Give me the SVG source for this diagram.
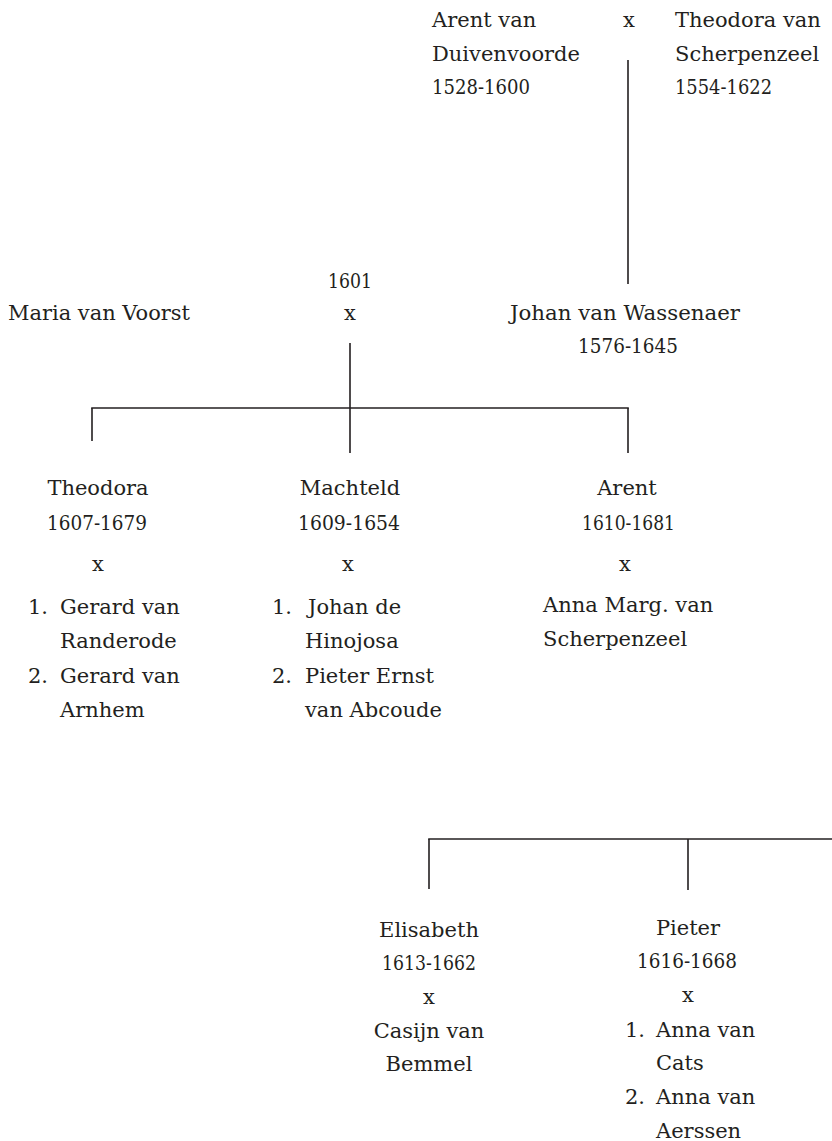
<svg xmlns="http://www.w3.org/2000/svg" width="832" height="1141" viewBox="0 0 832 1141">
<style>
text{font-family:"DejaVu Serif","Liberation Serif",serif;font-size:21px;fill:#231f20}
.m{text-anchor:middle}
.ln{stroke:#231f20;stroke-width:1.6;fill:none}
</style>
<rect width="832" height="1141" fill="#ffffff"/>
<g id="connectors">
<line class="ln" x1="628" y1="60" x2="628" y2="284"/>
<line class="ln" x1="350" y1="343" x2="350" y2="453"/>
<line class="ln" x1="91.2" y1="408" x2="628.8" y2="408"/>
<line class="ln" x1="92" y1="408" x2="92" y2="441"/>
<line class="ln" x1="628" y1="408" x2="628" y2="453"/>
<line class="ln" x1="428.2" y1="839" x2="832" y2="839"/>
<line class="ln" x1="429" y1="839" x2="429" y2="889"/>
<line class="ln" x1="688" y1="839" x2="688" y2="890"/>
</g>
<g id="node-arent-duivenvoorde">
<text x="432" y="27">Arent van</text>
<text x="432" y="61">Duivenvoorde</text>
<text x="432" y="94" textLength="98" lengthAdjust="spacingAndGlyphs">1528-1600</text>
</g>
<g id="marriage-top"><text class="m" x="629" y="27">x</text></g>
<g id="node-theodora-scherpenzeel">
<text x="675" y="27">Theodora van</text>
<text x="675" y="61">Scherpenzeel</text>
<text x="675" y="94" textLength="97" lengthAdjust="spacingAndGlyphs">1554-1622</text>
</g>
<g id="marriage-1601">
<text class="m" x="350" y="288" textLength="44" lengthAdjust="spacingAndGlyphs">1601</text>
<text class="m" x="350" y="320">x</text>
</g>
<g id="node-maria">
<text x="8" y="320" textLength="182" lengthAdjust="spacingAndGlyphs">Maria van Voorst</text>
</g>
<g id="node-johan">
<text x="510" y="320" textLength="230" lengthAdjust="spacingAndGlyphs">Johan van Wassenaer</text>
<text x="578" y="353" textLength="100" lengthAdjust="spacingAndGlyphs">1576-1645</text>
</g>
<g id="node-theodora">
<text class="m" x="98" y="495">Theodora</text>
<text x="47" y="530" textLength="100" lengthAdjust="spacingAndGlyphs">1607-1679</text>
<text class="m" x="98" y="571">x</text>
<text x="28" y="614">1.</text><text x="60" y="614">Gerard van</text>
<text x="60" y="648">Randerode</text>
<text x="28" y="683">2.</text><text x="60" y="683">Gerard van</text>
<text x="60" y="717">Arnhem</text>
</g>
<g id="node-machteld">
<text class="m" x="350" y="495">Machteld</text>
<text x="298" y="530" textLength="102" lengthAdjust="spacingAndGlyphs">1609-1654</text>
<text class="m" x="348" y="571">x</text>
<text x="272" y="614">1.</text><text x="308" y="614">Johan de</text>
<text x="305" y="648">Hinojosa</text>
<text x="272" y="683">2.</text><text x="305" y="683">Pieter Ernst</text>
<text x="305" y="717">van Abcoude</text>
</g>
<g id="node-arent">
<text class="m" x="627" y="495">Arent</text>
<text x="582" y="530" textLength="93" lengthAdjust="spacingAndGlyphs">1610-1681</text>
<text class="m" x="625" y="571">x</text>
<text x="543" y="612">Anna Marg. van</text>
<text x="543" y="646">Scherpenzeel</text>
</g>
<g id="node-elisabeth">
<text class="m" x="429" y="937">Elisabeth</text>
<text class="m" x="429" y="970" textLength="94" lengthAdjust="spacingAndGlyphs">1613-1662</text>
<text class="m" x="429" y="1004">x</text>
<text class="m" x="429" y="1038">Casijn van</text>
<text class="m" x="429" y="1071">Bemmel</text>
</g>
<g id="node-pieter">
<text class="m" x="688" y="935">Pieter</text>
<text class="m" x="687" y="968" textLength="100" lengthAdjust="spacingAndGlyphs">1616-1668</text>
<text class="m" x="688" y="1002">x</text>
<text x="625" y="1037">1.</text><text x="656" y="1037">Anna van</text>
<text x="656" y="1070">Cats</text>
<text x="625" y="1104">2.</text><text x="656" y="1104">Anna van</text>
<text x="656" y="1138">Aerssen</text>
</g>
</svg>
